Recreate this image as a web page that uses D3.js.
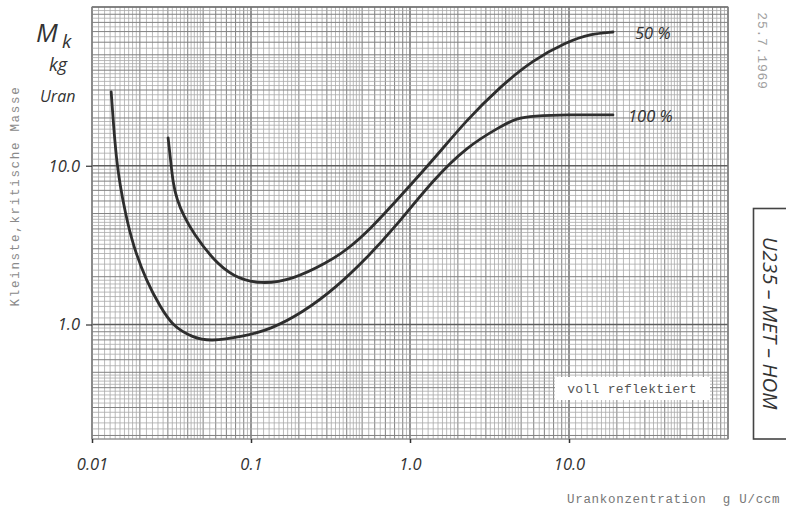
<!DOCTYPE html>
<html>
<head>
<meta charset="utf-8">
<script src="https://cdn.jsdelivr.net/npm/d3@7"></script>
<style>
  html, body { margin: 0; padding: 0; background: #fff; }
  svg { display: block; }
</style>
</head>
<body>
<svg id="chart" width="786" height="512"></svg>
<script>
// Critical mass of homogeneous U235-metal/water mixtures (fully reflected)
const conc100 = [0.0132, 0.01365, 0.01426, 0.0150, 0.01613, 0.0181, 0.0222, 0.0268, 0.0323, 0.0432, 0.0552, 0.0891, 0.132, 0.212, 0.348, 0.537, 0.782, 1.40, 2.28, 3.68, 4.71, 5.94, 9.71, 18.9];
const mass100 = [29.2, 18.1, 10.9, 7.6, 5.14, 3.14, 1.84, 1.30, 0.971, 0.828, 0.782, 0.84, 0.93, 1.19, 1.73, 2.64, 3.96, 8.17, 13.2, 17.6, 20.0, 20.6, 21.0, 20.9];

const conc50 = [0.0301, 0.0312, 0.0323, 0.0342, 0.0379, 0.0432, 0.0577, 0.0770, 0.114, 0.184, 0.301, 0.402, 0.560, 0.865, 1.40, 2.28, 3.68, 5.94, 9.71, 13.6, 18.9];
const mass50 = [15.0, 10.9, 7.82, 6.11, 4.78, 3.79, 2.56, 2.00, 1.785, 1.92, 2.45, 2.96, 3.96, 6.38, 10.9, 19.5, 31.4, 46.4, 60.3, 67.7, 69.6];

const seriesLabels = ["50 %", "100 %"];
const xTickValues = [0.01, 0.1, 1, 10];
const xTickLabels = ["0.01", "0.1", "1.0", "10.0"];
const yTickValues = [1, 10];
const yTickLabels = ["1.0", "10.0"];

const svg = d3.select("#chart");
svg.append("rect").attr("width", 786).attr("height", 512).attr("fill", "#fff");

const x = d3.scaleLog().domain([0.01, 100]).range([92, 728]);
const y = d3.scaleLog().domain([0.19, 100]).range([439, 7]);

// log graph paper: sub-divisions per decade
function paperLines(lo, hi) {
  const out = [];
  for (let e = Math.floor(Math.log10(lo)); e <= Math.ceil(Math.log10(hi)); e++) {
    const base = Math.pow(10, e);
    const steps = [[1, 2, 0.1], [2, 5, 0.2], [5, 10, 0.5]];
    steps.forEach(([a, b, s]) => {
      for (let m = a; m < b - 1e-9; m += s) {
        const mm = Math.round(m * 100) / 100;
        const v = mm * base;
        if (v >= lo * 0.999 && v <= hi * 1.001) {
          let level = 0;
          if (mm === 1) level = 2;
          else if (Math.abs(mm - Math.round(mm)) < 1e-9) level = 1;
          out.push({ v, level });
        }
      }
    });
  }
  return out;
}
const styles = [
  { c: "#a9a9a9", w: 0.8 },
  { c: "#808080", w: 1.0 },
  { c: "#5e5e5e", w: 1.3 }
];

const grid = svg.append("g");
const [x0, x1] = x.range();
const [y0, y1] = y.range();
paperLines(0.01, 100).sort((a, b) => a.level - b.level).forEach(d => {
  grid.append("line")
    .attr("x1", x(d.v)).attr("x2", x(d.v))
    .attr("y1", y1).attr("y2", y0)
    .attr("stroke", styles[d.level].c).attr("stroke-width", styles[d.level].w);
});
paperLines(0.19, 100).sort((a, b) => a.level - b.level).forEach(d => {
  grid.append("line")
    .attr("x1", x0).attr("x2", x1)
    .attr("y1", y(d.v)).attr("y2", y(d.v))
    .attr("stroke", styles[d.level].c).attr("stroke-width", styles[d.level].w);
});
// paper border
grid.append("rect")
  .attr("x", x0).attr("y", y1).attr("width", x1 - x0).attr("height", y0 - y1)
  .attr("fill", "none").attr("stroke", "#808080").attr("stroke-width", 1);

// axes (ticks + labels)
const xAxis = d3.axisBottom(x).tickValues(xTickValues)
  .tickFormat((d, i) => xTickLabels[i]).tickSize(4).tickPadding(15);
const gx = svg.append("g").attr("transform", `translate(0,${y0})`).call(xAxis);
gx.select(".domain").remove();
gx.selectAll(".tick line").attr("stroke", "#333").attr("stroke-width", 1.5);
gx.selectAll(".tick text")
  .attr("font-family", "'Open Sans', sans-serif").attr("font-style", "italic")
  .attr("font-size", 16.5).attr("fill", "#333");

const yAxis = d3.axisLeft(y).tickValues(yTickValues)
  .tickFormat((d, i) => yTickLabels[i]).tickSize(6).tickPadding(6);
const gy = svg.append("g").attr("transform", `translate(${x0},0)`).call(yAxis);
gy.select(".domain").remove();
gy.selectAll(".tick line").attr("stroke", "#333").attr("stroke-width", 1.2);
gy.selectAll(".tick text")
  .attr("font-family", "'Open Sans', sans-serif").attr("font-style", "italic")
  .attr("font-size", 16.5).attr("fill", "#333");

// curves
const line = d3.line()
  .x(d => x(d[0])).y(d => y(d[1]))
  .curve(d3.curveBasis);
const curves = [
  d3.zip(conc50, mass50),
  d3.zip(conc100, mass100)
];
svg.append("g").selectAll("path").data(curves).join("path")
  .attr("d", line)
  .attr("fill", "none").attr("stroke", "#2e2e2e")
  .attr("stroke-width", 2.8).attr("stroke-linecap", "round");

// curve labels at the end of each series
const ends = [[conc50, mass50], [conc100, mass100]];
ends.forEach(([c, m], i) => {
  const n = c.length - 1;
  svg.append("text")
    .attr("x", x(c[n]) + (i === 0 ? 22 : 15))
    .attr("y", y(m[n]) + 7)
    .attr("font-family", "'Open Sans', sans-serif").attr("font-style", "italic")
    .attr("font-size", 16.5).attr("fill", "#333")
    .text(seriesLabels[i]);
});

// unit block at top left
const unit = svg.append("g")
  .attr("font-family", "'Open Sans', sans-serif").attr("font-style", "italic").attr("fill", "#333");
unit.append("text").attr("x", 36).attr("y", 42).attr("font-size", 26).text("M");
unit.append("text").attr("x", 62).attr("y", 48).attr("font-size", 19).text("k");
unit.append("text").attr("x", 49).attr("y", 71).attr("font-size", 18).text("kg");
unit.append("text").attr("x", 40).attr("y", 102).attr("font-size", 16).text("Uran");

// typewriter axis titles
svg.append("text")
  .attr("transform", "translate(19,196) rotate(-90)")
  .attr("text-anchor", "middle")
  .attr("font-family", "'Liberation Mono', monospace").attr("font-size", 12.5)
  .attr("letter-spacing", 1.7).attr("fill", "#8a8a8a")
  .text("Kleinste,kritische Masse");

svg.append("text")
  .attr("x", 567).attr("y", 503)
  .attr("font-family", "'Liberation Mono', monospace").attr("font-size", 12.5)
  .attr("letter-spacing", 0.7).attr("fill", "#777")
  .attr("xml:space", "preserve").style("white-space", "pre")
  .text("Urankonzentration  g U/ccm");

// condition note on a white patch
svg.append("rect").attr("x", 555).attr("y", 377).attr("width", 155).attr("height", 23).attr("fill", "#fff");
svg.append("text")
  .attr("x", 632).attr("y", 393).attr("text-anchor", "middle")
  .attr("font-family", "'Liberation Mono', monospace").attr("font-size", 13)
  .attr("letter-spacing", 0.3).attr("fill", "#555")
  .text("voll reflektiert");

// date stamp
svg.append("text")
  .attr("transform", "translate(758,51) rotate(90)")
  .attr("text-anchor", "middle")
  .attr("font-family", "'Liberation Mono', monospace").attr("font-size", 13)
  .attr("letter-spacing", 0.8).attr("fill", "#a0a0a0")
  .text("25.7.1969");

// document tag box (right side runs past the sheet edge)
svg.append("rect")
  .attr("x", 753.5).attr("y", 208.5).attr("width", 40).attr("height", 230.5)
  .attr("fill", "#fff").attr("stroke", "#444").attr("stroke-width", 1.6);
svg.append("text")
  .attr("transform", "translate(763,323) rotate(90)")
  .attr("text-anchor", "middle")
  .attr("font-family", "'Open Sans', sans-serif").attr("font-style", "italic")
  .attr("font-size", 20.5).attr("fill", "#333")
  .attr("xml:space", "preserve").style("white-space", "pre")
  .text("U235 – MET – HOM");
</script>
</body>
</html>
